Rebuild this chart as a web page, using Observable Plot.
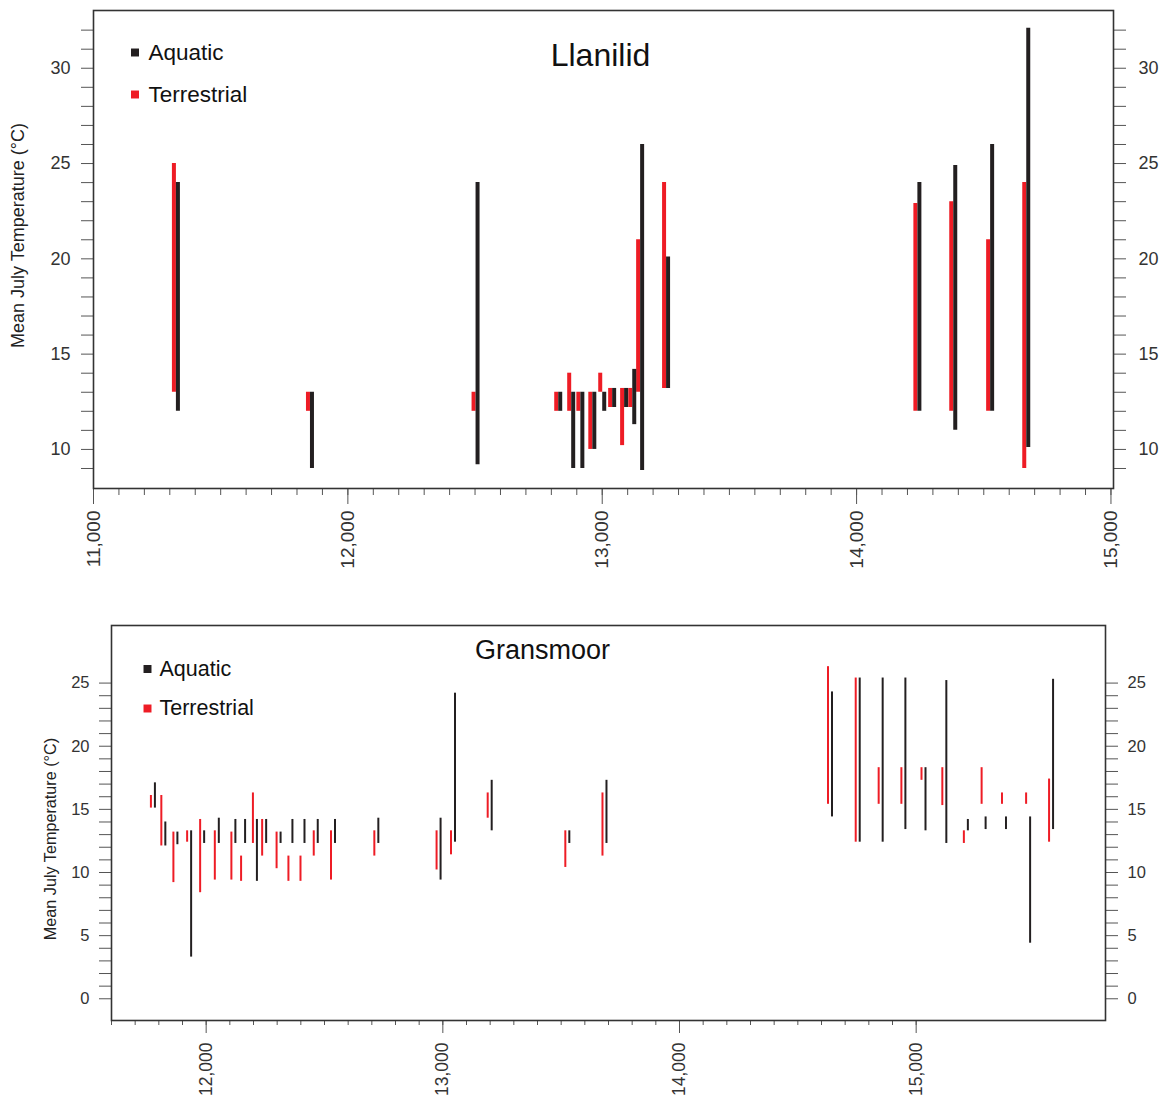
<!DOCTYPE html>
<html>
<head>
<meta charset="utf-8">
<script src="https://cdn.jsdelivr.net/npm/d3@7"></script>
<script src="https://cdn.jsdelivr.net/npm/@observablehq/plot@0.6"></script>
<style>
  html, body { margin: 0; padding: 0; background: #fff; }
  #wrap { position: relative; width: 1173px; height: 1100px; font-family: "Liberation Sans", Arial, sans-serif; }
  #top { position: absolute; left: 0; top: 0; }
  #bottom { position: absolute; left: 0; top: 600px; }
</style>
</head>
<body>
<div id="wrap"><div id="top"></div><div id="bottom"></div></div>
<script>
// ---------- Data: Llanilid ----------
const llanilidAge       = [11324, 11851, 12502, 12827, 12878, 12914, 12961, 13000, 13039, 13086, 13118, 13149, 13251, 14239, 14380, 14525, 14667];
const llanilidTerrLow   = [13,   12,   12,   12,   12,   12,   10,   13,   12.2, 10.2, 12.2, 13,   13.2, 12,   12,   12,   9];
const llanilidTerrHigh  = [25,   13,   13,   13,   14,   13,   13,   14,   13.2, 13.2, 13.2, 21,   24,   22.9, 23,   21,   24];
const llanilidAquaLow   = [12,   9,    9.2,  12,   9,    9,    10,   12,   12.2, 12.2, 11.3, 8.9,  13.2, 12,   11,   12,   10.1];
const llanilidAquaHigh  = [24,   13,   24,   13,   13,   13,   13,   13,   13.2, 13.2, 14.2, 26,   20.1, 24,   24.9, 26,   32.1];

// ---------- Data: Gransmoor ----------
const gransmoorAge      = [11775, 11819, 11870, 11928, 11983, 12045, 12115, 12156, 12206, 12245, 12306, 12356, 12407, 12463, 12536, 12719,
                           12982, 13043, 13198, 13526, 13683, 14636, 14753, 14850, 14946, 15031, 15119, 15210, 15285, 15371, 15473, 15570];
const gransmoorTerrLow  = [15.1, 12.1, 9.2, 12.4, 8.4, 9.4, 9.4, 9.3, 12.3, 11.3, 10.3, 9.3, 9.3, 11.3, 9.4, 11.3,
                           10.2, 11.4, 14.3, 10.4, 11.3, 15.4, 12.4, 15.4, 15.4, 17.3, 15.3, 12.3, 15.4, 15.4, 15.4, 12.4];
const gransmoorTerrHigh = [16.1, 16.1, 13.2, 13.3, 14.2, 13.3, 13.2, 11.3, 16.3, 14.2, 13.2, 11.3, 11.3, 13.3, 13.3, 13.3,
                           13.3, 13.3, 16.3, 13.3, 16.3, 26.3, 25.4, 18.3, 18.3, 18.3, 18.3, 13.3, 18.3, 16.3, 16.3, 17.4];
const gransmoorAquaLow  = [15.1, 12.1, 12.2, 3.3, 12.3, 12.3, 12.3, 12.3, 9.3, 12.3, 12.3, 12.3, 12.3, 12.3, 12.3, 12.3,
                           9.4, 12.4, 13.3, 12.3, 12.3, 14.4, 12.4, 12.4, 13.4, 13.3, 12.3, 13.3, 13.4, 13.4, 4.4, 13.4];
const gransmoorAquaHigh = [17.1, 14.0, 13.2, 13.3, 13.3, 14.3, 14.2, 14.2, 14.2, 14.2, 13.2, 14.2, 14.2, 14.2, 14.2, 14.3,
                           14.3, 24.2, 17.3, 13.3, 17.3, 24.3, 25.4, 25.4, 25.4, 18.3, 25.2, 14.2, 14.4, 14.4, 14.4, 25.3];

// ---------- Labels ----------
const yLabel = "Mean July Temperature (°C)";
const legendNames = ["Aquatic", "Terrestrial"];
const legendColors = ["#231f20", "#ee1c25"];
const RED = "#ee1c25", BLACK = "#231f20";
const FONT = "Liberation Sans, Arial, sans-serif";

function rows(age, tl, th, al, ah) {
  return age.map((a, i) => ({age: a, tLo: tl[i], tHi: th[i], aLo: al[i], aHi: ah[i]}));
}

function chart(o) {
  const data = rows(o.age, o.tl, o.th, o.al, o.ah);
  const legendMarks = legendNames.flatMap((name, i) => [
    Plot.dot([name], {frameAnchor: "top-left", dx: o.legSqX, dy: o.legY[i], symbol: "square", r: o.legR, fill: legendColors[i], stroke: null}),
    Plot.text([name], {frameAnchor: "top-left", dx: o.legTxtX, dy: o.legY[i], text: d => d, textAnchor: "start", lineAnchor: "middle", fontSize: o.legFont, fill: "#111"})
  ]);
  return Plot.plot({
    width: 1173,
    height: o.height,
    marginLeft: o.ml, marginRight: o.mr, marginTop: o.mt, marginBottom: o.mb,
    style: {fontFamily: FONT, color: "#333", background: "#fff"},
    x: {domain: o.xDomain, label: null},
    y: {domain: o.yDomain, label: null},
    marks: [
      Plot.axisX({ticks: d3.range(o.minorStart, o.minorEnd + 1, 100), tickSize: o.minorTick, tickFormat: () => "", label: null, stroke: "#555"}),
      Plot.axisX({ticks: o.majorTicks, tickSize: o.majorTick, tickRotate: -90, tickPadding: o.xPad, tickFormat: d3.format(","), fontSize: o.xFont, label: null, stroke: "#555", fill: "#333"}),
      Plot.axisY({anchor: "left", ticks: o.yTicks, tickSize: 12, tickPadding: o.yPad, tickFormat: d => d % 5 === 0 ? d : "", fontSize: o.yFont, label: null, stroke: "#555", fill: "#333"}),
      Plot.axisY({anchor: "right", ticks: o.yTicks, tickSize: 12, tickPadding: o.yPadR, tickFormat: d => d % 5 === 0 ? d : "", fontSize: o.yFont, label: null, stroke: "#555", fill: "#333"}),
      Plot.ruleX(data, {x: "age", y1: "tLo", y2: "tHi", stroke: RED, strokeWidth: o.barW, dx: -o.barW / 2 - o.gap / 2}),
      Plot.ruleX(data, {x: "age", y1: "aLo", y2: "aHi", stroke: BLACK, strokeWidth: o.barW, dx: o.barW / 2 + o.gap / 2}),
      Plot.frame({stroke: "#333", strokeWidth: 1.6}),
      Plot.text([o.title], {frameAnchor: "top", dx: o.titleDx, dy: o.titleDy, lineAnchor: "middle", fontSize: o.titleFont, fill: "#111"}),
      Plot.text([yLabel], {frameAnchor: "left", rotate: -90, dx: o.ylDx, dy: o.ylDy, lineAnchor: "middle", textAnchor: "middle", fontSize: o.ylFont, fill: "#222"}),
      ...legendMarks
    ]
  });
}

document.getElementById("top").appendChild(chart({
  title: "Llanilid",
  age: llanilidAge, tl: llanilidTerrLow, th: llanilidTerrHigh, al: llanilidAquaLow, ah: llanilidAquaHigh,
  height: 600, ml: 93, mr: 60, mt: 10, mb: 112,
  xDomain: [11000, 15010], yDomain: [7.95, 33.03],
  minorStart: 11000, minorEnd: 15000, majorTicks: d3.range(11000, 15001, 1000),
  minorTick: 7, majorTick: 16, xPad: 6, xFont: 19,
  yTicks: d3.range(9, 33), yPad: 11, yPadR: 13, yFont: 18,
  barW: 4, gap: 0,
  titleDx: -3, titleDy: 45, titleFont: 32,
  ylDx: -75, ylDy: -14, ylFont: 18,
  legSqX: 41.5, legTxtX: 55, legY: [42, 84], legR: 4.5, legFont: 22.5
}));

document.getElementById("bottom").appendChild(chart({
  title: "Gransmoor",
  age: gransmoorAge, tl: gransmoorTerrLow, th: gransmoorTerrHigh, al: gransmoorAquaLow, ah: gransmoorAquaHigh,
  height: 500, ml: 111, mr: 68, mt: 25, mb: 80,
  xDomain: [11600, 15800], yDomain: [-1.72, 29.56],
  minorStart: 11600, minorEnd: 15000, majorTicks: d3.range(12000, 15001, 1000),
  minorTick: 5, majorTick: 13, xPad: 9, xFont: 17.5,
  yTicks: d3.range(0, 26), yPad: 10, yPadR: 10, yFont: 16.5,
  barW: 2, gap: 2,
  titleDx: -66, titleDy: 25, titleFont: 27,
  ylDx: -61, ylDy: 16, ylFont: 16.2,
  legSqX: 36, legTxtX: 48, legY: [43.5, 83], legR: 4.5, legFont: 21.5
}));
</script>
</body>
</html>
